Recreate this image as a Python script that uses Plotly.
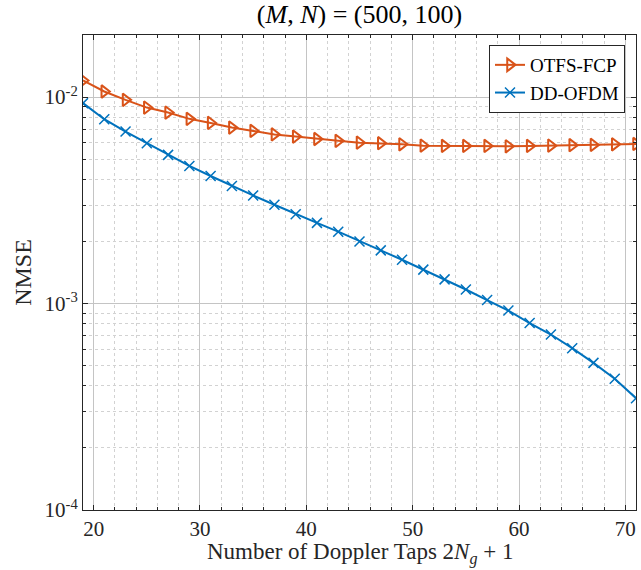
import plotly.graph_objects as go

# Number of Doppler taps (2*Ng + 1)
taps = list(range(19, 72, 2))

# NMSE per scheme
nmse_otfs_fcp = [1.204e-2, 1.065e-2, 9.70e-3, 8.90e-3, 8.42e-3, 7.85e-3, 7.50e-3,
                 7.12e-3, 6.86e-3, 6.60e-3, 6.44e-3, 6.27e-3, 6.14e-3, 6.02e-3,
                 5.98e-3, 5.91e-3, 5.82e-3, 5.80e-3, 5.80e-3, 5.80e-3, 5.78e-3,
                 5.80e-3, 5.82e-3, 5.85e-3, 5.87e-3, 5.91e-3, 5.93e-3]
nmse_dd_ofdm = [9.35e-3, 7.82e-3, 6.81e-3, 5.98e-3, 5.25e-3, 4.64e-3, 4.15e-3,
                3.71e-3, 3.34e-3, 3.01e-3, 2.71e-3, 2.46e-3, 2.23e-3, 2.00e-3,
                1.81e-3, 1.63e-3, 1.46e-3, 1.31e-3, 1.17e-3, 1.04e-3, 9.25e-4,
                8.05e-4, 7.08e-4, 6.08e-4, 5.16e-4, 4.32e-4, 3.48e-4]

x_ticks = [20, 30, 40, 50, 60, 70]
y_ticks = [1e-4, 1e-3, 1e-2]
y_ticktext = ["10<sup>-4</sup>", "10<sup>-3</sup>", "10<sup>-2</sup>"]

ORANGE = "#D95319"
BLUE = "#0072BD"
INK = "#262626"
FONT = "Liberation Serif"

# minor log gridlines at 2..9 of each decade
y_minor = [m * 10.0 ** e for e in (-4, -3, -2) for m in range(2, 10) if m * 10.0 ** e < 0.02]

fig = go.Figure()
fig.add_trace(go.Scatter(
    x=taps, y=nmse_otfs_fcp, name="OTFS-FCP", mode="lines+markers",
    line=dict(color=ORANGE, width=2),
    marker=dict(symbol="triangle-right-open", size=11, color=ORANGE,
                line=dict(color=ORANGE, width=2)),
))
fig.add_trace(go.Scatter(
    x=taps, y=nmse_dd_ofdm, name="DD-OFDM", mode="lines+markers",
    line=dict(color=BLUE, width=2),
    marker=dict(symbol="x-thin-open", size=10, color=BLUE,
                line=dict(color=BLUE, width=1.5)),
))

axis_common = dict(
    showline=True, linecolor=INK, linewidth=1, mirror="ticks",
    ticks="inside", ticklen=5, tickcolor=INK,
    showgrid=True, gridcolor="#c4c4c4", gridwidth=1, zeroline=False,
    tickfont=dict(family=FONT, size=21, color=INK), automargin=False,
)

fig.update_xaxes(
    **axis_common, range=[19, 71], tickvals=x_ticks,
    minor=dict(dtick=2, tick0=20, ticks="inside", ticklen=3, tickcolor=INK,
               showgrid=True, gridcolor="#d2d2d2", griddash="dot", gridwidth=1),
)
fig.update_yaxes(
    **axis_common, type="log", range=[-4, -1.699],
    tickvals=y_ticks, ticktext=y_ticktext,
    title=dict(text="NMSE", font=dict(family=FONT, size=24, color=INK), standoff=6),
    minor=dict(tickvals=y_minor, ticks="inside", ticklen=3, tickcolor=INK,
               showgrid=True, gridcolor="#d2d2d2", griddash="dot", gridwidth=1),
)

# x-axis label placed below the tick labels
fig.add_annotation(
    text="Number of Doppler Taps 2<i>N<sub>g</sub></i> + 1",
    xref="paper", yref="paper", x=0.5, y=0, xanchor="center", yanchor="middle",
    yshift=-43, showarrow=False,
    font=dict(family=FONT, size=23, color=INK),
)

fig.update_layout(
    width=641, height=570,
    margin=dict(l=83, r=5, t=35, b=60),
    paper_bgcolor="white", plot_bgcolor="white",
    title=dict(text="(<i>M</i>, <i>N</i>) = (500, 100)", x=0.5, xref="paper",
               xanchor="center", y=1 - 14 / 570, yref="container", yanchor="middle",
               font=dict(family=FONT, size=26, color="black")),
    legend=dict(x=(625 - 83) / 553, xanchor="right", y=(510 - 45) / 475, yanchor="top",
                bgcolor="white", bordercolor=INK, borderwidth=1,
                font=dict(family=FONT, size=19, color="black"),
                tracegroupgap=0, itemwidth=30),
    showlegend=True,
)

fig.write_html("out.html")
